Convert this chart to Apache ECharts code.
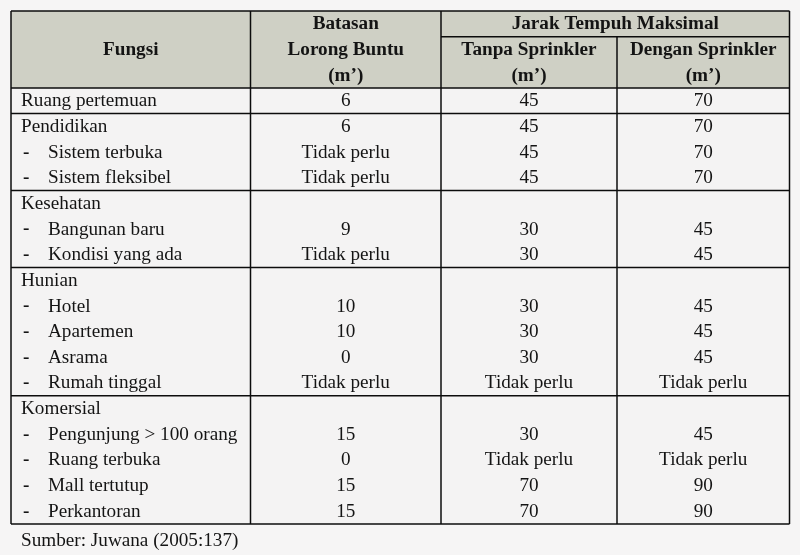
<!DOCTYPE html>
<html>
<head>
<meta charset="utf-8">
<script src="https://cdn.jsdelivr.net/npm/echarts@6/dist/echarts.min.js"></script>
<style>
html,body{margin:0;padding:0;background:#f6f5f5;}
#chart{width:800px;height:555px;}
</style>
</head>
<body>
<div id="chart"></div>
<script>
// ---------- DATA ----------
const headerFungsi = 'Fungsi';
const headerBatasan = ['Batasan', 'Lorong Buntu', '(m’)'];
const headerJarak = 'Jarak Tempuh Maksimal';
const headerTanpa = ['Tanpa Sprinkler', '(m’)'];
const headerDengan = ['Dengan Sprinkler', '(m’)'];
const sourceNote = 'Sumber: Juwana (2005:137)';

const fungsi = ['Ruang pertemuan', 'Pendidikan', 'Sistem terbuka', 'Sistem fleksibel',
  'Kesehatan', 'Bangunan baru', 'Kondisi yang ada',
  'Hunian', 'Hotel', 'Apartemen', 'Asrama', 'Rumah tinggal',
  'Komersial', 'Pengunjung > 100 orang', 'Ruang terbuka', 'Mall tertutup', 'Perkantoran'];
const isSubItem = [false, false, true, true, false, true, true, false, true, true, true, true, false, true, true, true, true];
const lorongBuntu = ['6', '6', 'Tidak perlu', 'Tidak perlu', '', '9', 'Tidak perlu', '', '10', '10', '0', 'Tidak perlu', '', '15', '0', '15', '15'];
const tanpaSprinkler = ['45', '45', '45', '45', '', '30', '30', '', '30', '30', '30', 'Tidak perlu', '', '30', 'Tidak perlu', '70', '70'];
const denganSprinkler = ['70', '70', '70', '70', '', '45', '45', '', '45', '45', '45', 'Tidak perlu', '', '45', 'Tidak perlu', '90', '90'];
const groupStarts = [0, 1, 4, 7, 12];

// ---------- LAYOUT ----------
const colEdges = [11, 250.5, 441, 617, 789.5];
const HEADER_ROWS = 3;
const TOTAL_ROWS = HEADER_ROWS + fungsi.length; // 20
const ROW_H = 25.65;
const TOP = 11;
const FONT = 'Liberation Serif, Times New Roman, serif';
const FS = 19.2;
const TXT = '#141414';
const LINE = '#0c0c0c';

// cells: [c0, c1, r0, r1, fill]
const cellData = [
  [0, 4, 0, HEADER_ROWS, '#cfd0c5'],
  [0, 4, HEADER_ROWS, TOTAL_ROWS, '#f4f3f3']
];

// texts: [x, rowCenter, text, align, bold]
const textData = [];
const mid = (a, b) => (colEdges[a] + colEdges[b]) / 2;
textData.push([mid(0, 1), 1.52, headerFungsi, 'center', 1]);
headerBatasan.forEach((t, i) => textData.push([mid(1, 2), 0.52 + i, t, 'center', 1]));
textData.push([mid(2, 4), 0.52, headerJarak, 'center', 1]);
headerTanpa.forEach((t, i) => textData.push([mid(2, 3), 1.52 + i, t, 'center', 1]));
headerDengan.forEach((t, i) => textData.push([mid(3, 4), 1.52 + i, t, 'center', 1]));
fungsi.forEach((name, i) => {
  const r = HEADER_ROWS + i + 0.52;
  if (isSubItem[i]) {
    textData.push([colEdges[0] + 12, r, '-', 'left', 1]);
    textData.push([colEdges[0] + 37, r, name, 'left', 0]);
  } else {
    textData.push([colEdges[0] + 10, r, name, 'left', 0]);
  }
  textData.push([mid(1, 2), r, lorongBuntu[i], 'center', 0]);
  textData.push([mid(2, 3), r, tanpaSprinkler[i], 'center', 0]);
  textData.push([mid(3, 4), r, denganSprinkler[i], 'center', 0]);
});
textData.push([colEdges[0] + 10, TOTAL_ROWS + 0.66, sourceNote, 'left', 0]);

// lines: [x0, r0, x1, r1]
const lineData = [
  [colEdges[0], 0, colEdges[4], 0],
  [colEdges[2], 1, colEdges[4], 1],
  [colEdges[0], HEADER_ROWS, colEdges[4], HEADER_ROWS],
  [colEdges[0], TOTAL_ROWS, colEdges[4], TOTAL_ROWS],
  [colEdges[0], 0, colEdges[0], TOTAL_ROWS],
  [colEdges[1], 0, colEdges[1], TOTAL_ROWS],
  [colEdges[2], 0, colEdges[2], TOTAL_ROWS],
  [colEdges[3], 1, colEdges[3], TOTAL_ROWS],
  [colEdges[4], 0, colEdges[4], TOTAL_ROWS]
];
groupStarts.forEach(g => {
  if (g > 0) lineData.push([colEdges[0], HEADER_ROWS + g, colEdges[4], HEADER_ROWS + g]);
});

const chart = echarts.init(document.getElementById('chart'), null, { renderer: 'canvas' });
chart.setOption({
  backgroundColor: '#f6f5f5',
  animation: false,
  grid: { left: 0, width: 800, top: TOP, height: ROW_H * 21 },
  xAxis: { type: 'value', min: 0, max: 800, show: false },
  yAxis: { type: 'value', min: 0, max: 21, inverse: true, show: false },
  series: [
    {
      type: 'custom', data: cellData, silent: true, z: 1,
      renderItem: (params, api) => {
        const d = cellData[params.dataIndex];
        const p0 = api.coord([colEdges[d[0]], d[2]]);
        const p1 = api.coord([colEdges[d[1]], d[3]]);
        return { type: 'rect', shape: { x: p0[0], y: p0[1], width: p1[0] - p0[0], height: p1[1] - p0[1] }, style: { fill: d[4] } };
      }
    },
    {
      type: 'custom', data: lineData, silent: true, z: 3,
      renderItem: (params, api) => {
        const d = lineData[params.dataIndex];
        const p0 = api.coord([d[0], d[1]]);
        const p1 = api.coord([d[2], d[3]]);
        return { type: 'line', shape: { x1: p0[0], y1: p0[1], x2: p1[0], y2: p1[1] }, style: { stroke: LINE, lineWidth: 1.5 } };
      }
    },
    {
      type: 'custom', data: textData, silent: true, z: 4,
      renderItem: (params, api) => {
        const d = textData[params.dataIndex];
        const p = api.coord([d[0], d[1]]);
        return {
          type: 'text', x: p[0], y: p[1],
          style: { text: d[2], fill: TXT, fontFamily: FONT, fontSize: FS, fontWeight: d[4] ? 'bold' : 'normal', align: d[3], verticalAlign: 'middle' }
        };
      }
    }
  ]
});
</script>
</body>
</html>
